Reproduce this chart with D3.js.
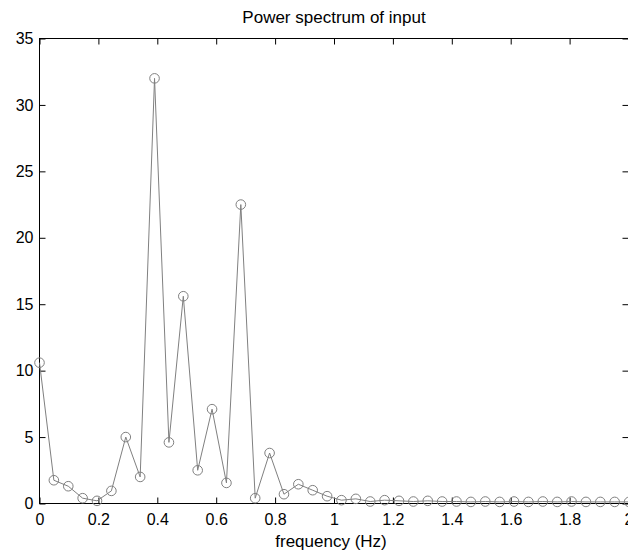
<!DOCTYPE html>
<html>
<head>
<meta charset="utf-8">
<script src="https://cdn.jsdelivr.net/npm/d3@7"></script>
<style>
  html, body { margin: 0; padding: 0; background: #fff; }
  svg { display: block; }
  text { font-family: "Liberation Sans", Arial, Helvetica, sans-serif; }
</style>
</head>
<body>
<svg id="chart" width="628" height="554"></svg>
<script>
// ---- data ----
const frequency = [0.0000, 0.0488, 0.0977, 0.1465, 0.1953, 0.2441, 0.2930, 0.3418, 0.3906, 0.4395,
                   0.4883, 0.5371, 0.5859, 0.6348, 0.6836, 0.7324, 0.7813, 0.8301, 0.8789, 0.9277,
                   0.9766, 1.0254, 1.0742, 1.1230, 1.1719, 1.2207, 1.2695, 1.3184, 1.3672, 1.4160,
                   1.4648, 1.5137, 1.5625, 1.6113, 1.6602, 1.7090, 1.7578, 1.8066, 1.8555, 1.9043,
                   1.9531, 2.0020];
const power = [10.6, 1.75, 1.3, 0.4, 0.2, 0.95, 5.0, 2.0, 32.0, 4.6,
               15.6, 2.5, 7.1, 1.55, 22.5, 0.4, 3.8, 0.7, 1.45, 1.0,
               0.55, 0.25, 0.35, 0.15, 0.25, 0.2, 0.15, 0.2, 0.15, 0.15,
               0.12, 0.15, 0.12, 0.15, 0.12, 0.15, 0.12, 0.15, 0.12, 0.12,
               0.12, 0.12];
const xTicks = [0, 0.2, 0.4, 0.6, 0.8, 1.0, 1.2, 1.4, 1.6, 1.8, 2.0];
const yTicks = [0, 5, 10, 15, 20, 25, 30, 35];
const titleText = "Power spectrum of input";
const xLabelText = "frequency (Hz)";

// ---- layout ----
const pLeft = 39.5, pRight = 628.5, pTop = 38.5, pBottom = 503.5;
const svg = d3.select("#chart");

const x = d3.scaleLinear().domain([0, 2]).range([pLeft, pRight]);
const y = d3.scaleLinear().domain([0, 35]).range([pBottom, pTop]);

const fmt = d => (d === 0 ? "0" : d3.format("~g")(d));

const gx = svg.append("g").attr("transform", `translate(0,${pBottom})`)
  .call(d3.axisBottom(x).tickValues(xTicks).tickFormat(fmt).tickSizeInner(-6).tickSizeOuter(0).tickPadding(10));
const gy = svg.append("g").attr("transform", `translate(${pLeft},0)`)
  .call(d3.axisLeft(y).tickValues(yTicks).tickFormat(fmt).tickSizeInner(-6).tickSizeOuter(0).tickPadding(6));
const gt = svg.append("g").attr("transform", `translate(0,${pTop})`)
  .call(d3.axisTop(x).tickValues(xTicks).tickFormat("").tickSizeInner(-6).tickSizeOuter(0));
const gr = svg.append("g").attr("transform", `translate(${pRight},0)`)
  .call(d3.axisRight(y).tickValues(yTicks).tickFormat("").tickSizeInner(-6).tickSizeOuter(0));

[gx, gy, gt, gr].forEach(g => {
  g.select(".domain").remove();
  g.selectAll(".tick line").attr("stroke", "#000").attr("stroke-width", 1);
  g.selectAll(".tick text").attr("fill", "#000").style("font-size", "16px");
});

svg.append("rect")
  .attr("x", pLeft).attr("y", pTop)
  .attr("width", pRight - pLeft).attr("height", pBottom - pTop)
  .attr("fill", "none").attr("stroke", "#000").attr("stroke-width", 1);

const pts = frequency.map((f, i) => [f, power[i]]);
const line = d3.line().x(d => x(d[0])).y(d => y(d[1]));
svg.append("path").datum(pts)
  .attr("d", line)
  .attr("fill", "none").attr("stroke", "#808080").attr("stroke-width", 1);

svg.append("g").selectAll("circle").data(pts).join("circle")
  .attr("cx", d => x(d[0])).attr("cy", d => y(d[1]))
  .attr("r", 4.8)
  .attr("fill", "none").attr("stroke", "#808080").attr("stroke-width", 1);

svg.append("text").attr("x", (pLeft + pRight) / 2).attr("y", 23)
  .attr("text-anchor", "middle").style("font-size", "17px").attr("fill", "#000")
  .text(titleText);
svg.append("text").attr("x", 331).attr("y", 547)
  .attr("text-anchor", "middle").style("font-size", "17px").attr("fill", "#000")
  .text(xLabelText);
</script>
</body>
</html>
